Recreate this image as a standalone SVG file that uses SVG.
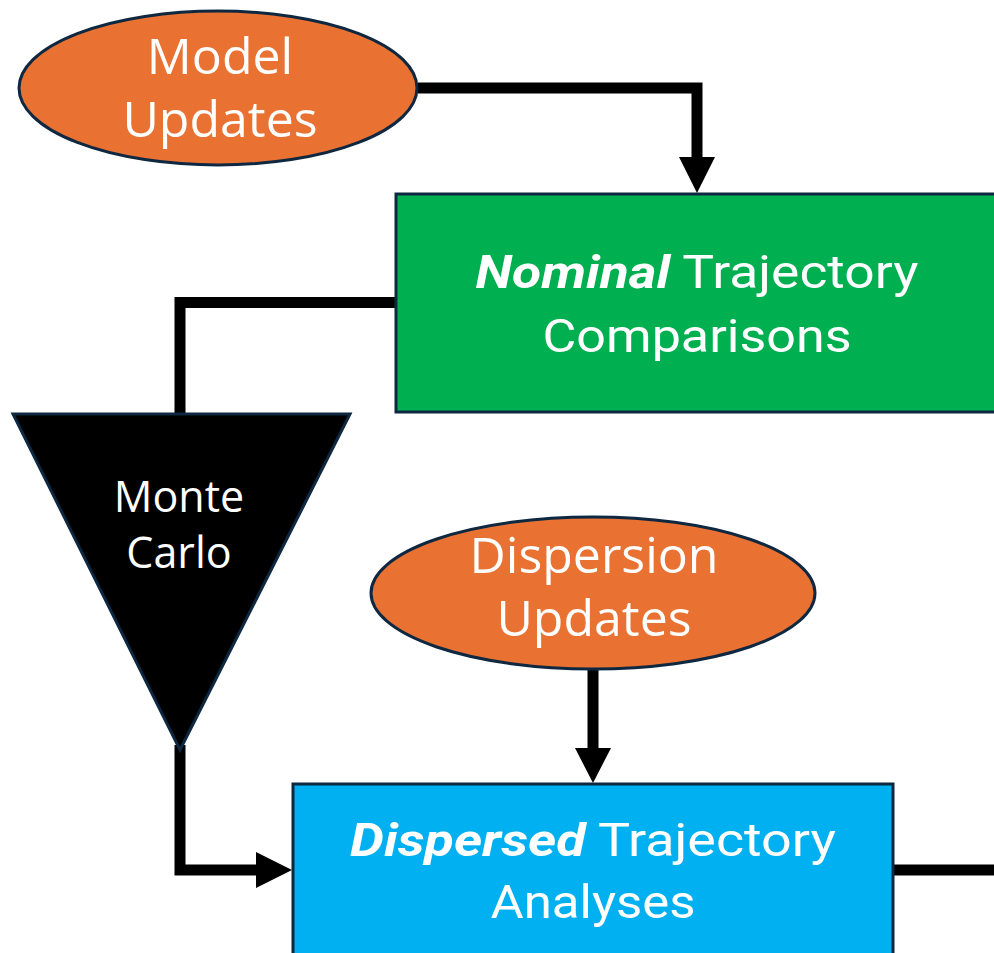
<svg xmlns="http://www.w3.org/2000/svg" width="994" height="953" viewBox="0 0 994 953">
  <style>
    .shape { stroke: #0E2841; stroke-width: 3; }
    .oval { fill: #E97132; }
    .nominal { fill: #00B050; }
    .dispersed { fill: #00B0F0; }
    .funnel { fill: #000000; }
    .label { fill: #FFFFFF; font-family: "Open Sans", "Liberation Sans", sans-serif; text-anchor: middle; }
    .boxlabel { fill: #FFFFFF; font-family: Roboto, "Liberation Sans", sans-serif; text-anchor: middle; font-size: 46px; }
    .em { font-weight: bold; font-style: italic; }
    .wire { fill: none; stroke: #000000; stroke-width: 11; stroke-linejoin: miter; }
    .head { fill: #000000; }
  </style>

  <g id="connectors">
    <path class="wire" d="M418,88 H697 V158" />
    <path class="head" d="M679,157 L715,157 L697,193 Z"/>
    <path class="wire" d="M395,302.5 H180 V414" />
    <path class="wire" d="M180,745 V870 H258" />
    <path class="head" d="M256,852 L292,870 L256,888 Z"/>
    <path class="wire" d="M593,670 V750" />
    <path class="head" d="M575,748 L611,748 L593,783 Z"/>
    <path class="wire" d="M893,870 H994" />
  </g>

  <g id="model-updates">
    <ellipse class="shape oval" cx="218" cy="88" rx="199" ry="77"/>
    <text class="label" x="220" y="74" font-size="50">Model</text>
    <text class="label" x="220" y="137" font-size="50">Updates</text>
  </g>

  <g id="nominal-comparisons">
    <rect class="shape nominal" x="396" y="194" width="610" height="218"/>
    <text class="boxlabel" x="697" y="288" textLength="443" lengthAdjust="spacingAndGlyphs"><tspan class="em">Nominal</tspan> Trajectory</text>
    <text class="boxlabel" x="697" y="352" textLength="309" lengthAdjust="spacingAndGlyphs">Comparisons</text>
  </g>

  <g id="monte-carlo">
    <polygon class="shape funnel" points="13,414 350,414 180,750"/>
    <text class="label" x="179" y="512" font-size="43">Monte</text>
    <text class="label" x="179" y="568" font-size="43">Carlo</text>
  </g>

  <g id="dispersion-updates">
    <ellipse class="shape oval" cx="593" cy="593" rx="222" ry="76"/>
    <text class="label" x="594" y="573" font-size="50">Dispersion</text>
    <text class="label" x="594" y="636" font-size="50">Updates</text>
  </g>

  <g id="dispersed-analyses">
    <rect class="shape dispersed" x="293" y="784" width="600" height="190"/>
    <text class="boxlabel" x="593" y="856" textLength="486" lengthAdjust="spacingAndGlyphs"><tspan class="em">Dispersed</tspan> Trajectory</text>
    <text class="boxlabel" x="593" y="918" textLength="205" lengthAdjust="spacingAndGlyphs">Analyses</text>
  </g>
</svg>
